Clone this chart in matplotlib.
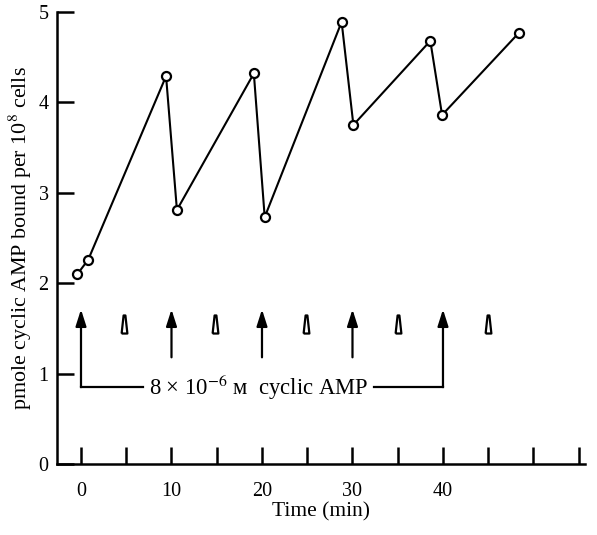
import numpy as np
import matplotlib
matplotlib.use("Agg")
import matplotlib.pyplot as plt

plt.rcParams['font.family'] = ['Liberation Serif', 'DejaVu Serif']
plt.rcParams['mathtext.fontset'] = 'stix'

# data
time_min = [-0.4, 0.8, 9.4, 10.6, 19.1, 20.3, 28.8, 30.1, 38.6, 39.9, 48.4]
camp_bound = [2.10, 2.26, 4.29, 2.81, 4.32, 2.73, 4.89, 3.75, 4.68, 3.86, 4.77]

add_times = [0, 10, 20, 30, 40]       # solid arrows
wash_times = [4.7, 14.8, 24.9, 35, 45]  # open arrowheads
x_ticks = np.arange(0, 56, 5)
x_ticklabels = ['0', '', '10', '', '20', '', '30', '', '40', '', '', '']
y_ticks = [0, 1, 2, 3, 4, 5]

fig = plt.figure(figsize=(5.97, 5.35), dpi=100)
ax = fig.add_axes([0.0955, 0.1327, 0.8845, 0.845])

ax.plot(time_min, camp_bound, color='black', lw=1.5, marker='o', ms=6.5,
        mfc='white', mec='black', mew=1.6, zorder=3)

# solid arrows (cyclic AMP additions)
for t in add_times:
    y0 = 0.85 if t in (0, 40) else 1.18
    ax.annotate('', xy=(t, 1.71), xytext=(t, y0),
                arrowprops=dict(arrowstyle='-|>,head_length=1.0,head_width=0.32',
                                color='black', lw=1.6, shrinkA=0, shrinkB=0))

# open arrowheads
tri = [(-0.32, -1), (0.32, -1), (0.1, 1), (-0.1, 1), (-0.32, -1)]
ax.plot(wash_times, [1.55] * len(wash_times), ls='none', marker=tri, ms=13,
        mfc='white', mec='black', mew=1.6)

# bracket
ax.plot([0, 6.8], [0.85, 0.85], color='black', lw=1.6)
ax.plot([32.4, 40], [0.85, 0.85], color='black', lw=1.6)
ax.text(19.6, 0.85, '8 × 10$^{-6}$ ᴍ  cyclic AMP', ha='center', va='center',
        fontsize=16.3)

ax.set_xlim(-2.65, 55.7)
ax.set_ylim(0, 5)
ax.set_xticks(x_ticks)
ax.set_xticklabels(x_ticklabels)
ax.set_yticks(y_ticks)
ax.tick_params(direction='in', length=12, width=1.8, labelsize=14.5)
ax.tick_params(axis='x', pad=13)
ax.tick_params(axis='y', pad=6)
for s in ['top', 'right']:
    ax.spines[s].set_visible(False)
for s in ['left', 'bottom']:
    ax.spines[s].set_linewidth(1.8)

ax.set_xlabel('Time (min)', fontsize=15.5, labelpad=1)
ax.set_ylabel('pmole cyclic AMP bound per 10$^8$ cells', fontsize=15.8, labelpad=3)

fig.savefig('out.png', dpi=100, facecolor='white')
